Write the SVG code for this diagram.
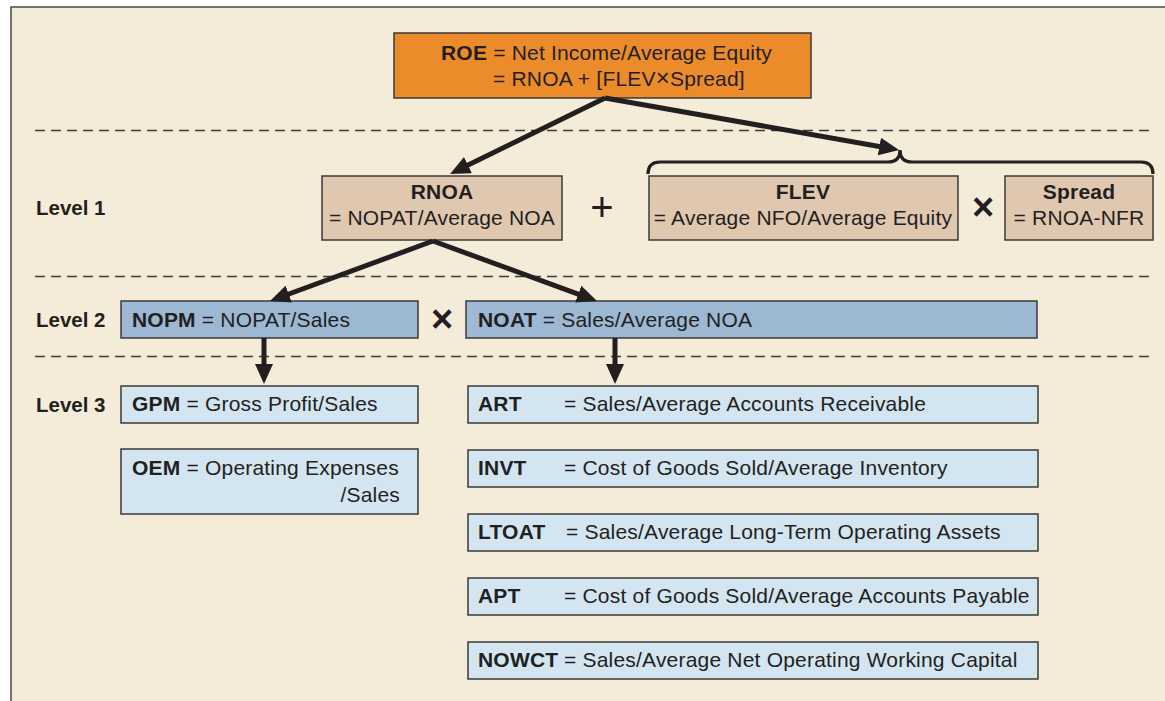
<svg xmlns="http://www.w3.org/2000/svg" width="1165" height="701" viewBox="0 0 1165 701">
<defs>
<style>
.t{font-family:"Liberation Sans",Arial,Helvetica,sans-serif;font-size:21px;fill:#231f20;letter-spacing:0.2px}
.b{font-weight:bold}
.lvl{font-family:"Liberation Sans",Arial,Helvetica,sans-serif;font-size:20.5px;font-weight:bold;fill:#231f20}
.op{font-family:"Liberation Sans",Arial,Helvetica,sans-serif;fill:#231f20;text-anchor:middle}
.box{stroke:#3b3838;stroke-width:1.5}
.roe{fill:#ec8b2a}
.tan{fill:#e0c8b0}
.l2{fill:#9db8d3}
.l3{fill:#d3e5f0}
.dash{stroke:#3b3838;stroke-width:1.4;stroke-dasharray:10 6;fill:none}
.arr{stroke:#231f20;stroke-width:5;fill:none;marker-end:url(#ah)}
</style>
<marker id="ah" markerUnits="userSpaceOnUse" viewBox="0 0 20 18" markerWidth="20" markerHeight="18" refX="10" refY="9" orient="auto">
<path d="M0,0 L20,9 L0,18 z" fill="#231f20"/>
</marker>
</defs>
<rect x="0" y="0" width="1165" height="701" fill="#ffffff"/>
<rect x="11" y="7" width="1170" height="720" fill="#f4ecd8" stroke="#4a4a4a" stroke-width="1.5"/>

<g id="dividers">
<line class="dash" x1="35" y1="130.5" x2="1150" y2="130.5"/>
<line class="dash" x1="35" y1="276.5" x2="1150" y2="276.5"/>
<line class="dash" x1="35" y1="356.5" x2="1150" y2="356.5"/>
</g>

<g id="level-labels">
<text class="lvl" x="36" y="215">Level 1</text>
<text class="lvl" x="36" y="327">Level 2</text>
<text class="lvl" x="36" y="412">Level 3</text>
</g>

<g id="roe">
<rect class="box roe" x="394" y="33" width="417" height="65"/>
<text class="t" x="441" y="60"><tspan class="b">ROE</tspan> = Net Income/Average Equity</text>
<text class="t" x="493" y="86">= RNOA + [FLEV<tspan font-size="24">×</tspan>Spread]</text>
</g>

<g id="rnoa">
<rect class="box tan" x="322" y="176" width="240" height="64"/>
<text class="t b" x="442" y="199" text-anchor="middle">RNOA</text>
<text class="t" x="442" y="225" text-anchor="middle">= NOPAT/Average NOA</text>
</g>

<g id="plus"><text class="op" x="602" y="221" font-size="40">+</text></g>

<g id="flev">
<rect class="box tan" x="649" y="176" width="309" height="64"/>
<text class="t b" x="803" y="199" text-anchor="middle">FLEV</text>
<text class="t" x="803" y="225" text-anchor="middle">= Average NFO/Average Equity</text>
</g>

<g id="times1"><text class="op" x="983" y="220" font-size="38" font-weight="bold">×</text></g>

<g id="spread">
<rect class="box tan" x="1005" y="176" width="148" height="64"/>
<text class="t b" x="1079" y="199" text-anchor="middle">Spread</text>
<text class="t" x="1079" y="225" text-anchor="middle">= RNOA-NFR</text>
</g>

<g id="brace">
<path d="M648,174 Q648,162 660,162 L888,162 Q900,162 900,150 Q900,162 912,162 L1141,162 Q1153,162 1153,174" fill="none" stroke="#231f20" stroke-width="3.2"/>
</g>

<g id="nopm">
<rect class="box l2" x="121" y="301" width="297" height="37"/>
<text class="t" x="132" y="327"><tspan class="b">NOPM</tspan> = NOPAT/Sales</text>
</g>

<g id="times2"><text class="op" x="442" y="332" font-size="38" font-weight="bold">×</text></g>

<g id="noat">
<rect class="box l2" x="466" y="301" width="571" height="37"/>
<text class="t" x="478" y="327"><tspan class="b">NOAT</tspan> = Sales/Average NOA</text>
</g>

<g id="gpm">
<rect class="box l3" x="121" y="386" width="297" height="37"/>
<text class="t" x="132" y="411"><tspan class="b">GPM</tspan> = Gross Profit/Sales</text>
</g>

<g id="oem">
<rect class="box l3" x="121" y="449" width="297" height="65"/>
<text class="t" x="132" y="475"><tspan class="b">OEM</tspan> = Operating Expenses</text>
<text class="t" x="400" y="502" text-anchor="end">/Sales</text>
</g>

<g id="art">
<rect class="box l3" x="468" y="386" width="570" height="37"/>
<text class="t b" x="478" y="411">ART</text>
<text class="t" x="564" y="411">= Sales/Average Accounts Receivable</text>
</g>

<g id="invt">
<rect class="box l3" x="468" y="450" width="570" height="37"/>
<text class="t b" x="478" y="475">INVT</text>
<text class="t" x="564" y="475">= Cost of Goods Sold/Average Inventory</text>
</g>

<g id="ltoat">
<rect class="box l3" x="468" y="514" width="570" height="37"/>
<text class="t b" x="478" y="539">LTOAT</text>
<text class="t" x="566" y="539">= Sales/Average Long-Term Operating Assets</text>
</g>

<g id="apt">
<rect class="box l3" x="468" y="578" width="570" height="37"/>
<text class="t b" x="478" y="603">APT</text>
<text class="t" x="564" y="603">= Cost of Goods Sold/Average Accounts Payable</text>
</g>

<g id="nowct">
<rect class="box l3" x="468" y="642" width="570" height="37"/>
<text class="t b" x="478" y="667">NOWCT</text>
<text class="t" x="564" y="667">= Sales/Average Net Operating Working Capital</text>
</g>

<g id="connectors">
<line class="arr" x1="605" y1="98" x2="459" y2="169.6"/>
<line class="arr" x1="605" y1="98" x2="889.2" y2="148.3"/>
<line class="arr" x1="433" y1="241" x2="279.4" y2="297.5"/>
<line class="arr" x1="433" y1="241" x2="587.6" y2="297.6"/>
<line class="arr" x1="264" y1="338" x2="264" y2="374"/>
<line class="arr" x1="615" y1="338" x2="615" y2="374"/>
</g>
</svg>
